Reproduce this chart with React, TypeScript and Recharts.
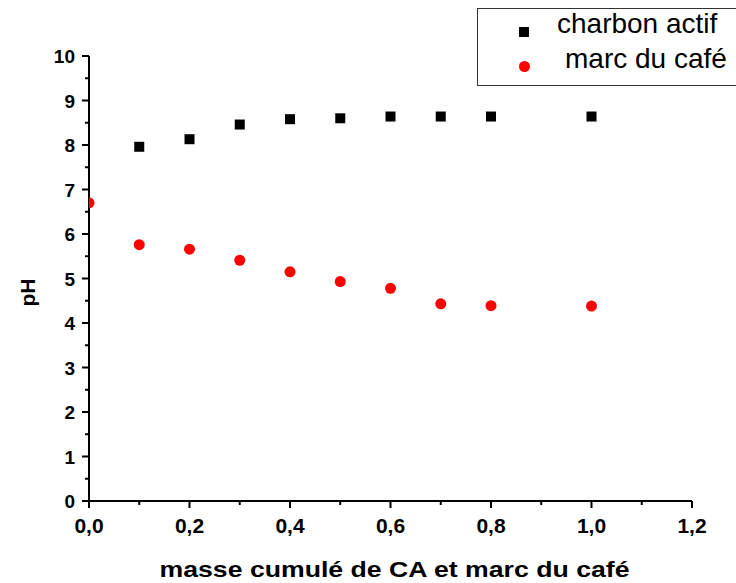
import { ScatterChart, Scatter, XAxis, YAxis } from 'recharts'

// ─── Data ─────────────────────────────────────────────────────────────────
const charbonMasses = [0.1, 0.2, 0.3, 0.4, 0.5, 0.6, 0.7, 0.8, 1.0]
const charbonPH = [7.96, 8.13, 8.46, 8.58, 8.6, 8.64, 8.64, 8.64, 8.64]

const marcMasses = [0, 0.1, 0.2, 0.3, 0.4, 0.5, 0.6, 0.7, 0.8, 1.0]
const marcPH = [6.7, 5.76, 5.66, 5.41, 5.15, 4.93, 4.78, 4.43, 4.39, 4.38]

const xTicks = [0, 0.1, 0.2, 0.3, 0.4, 0.5, 0.6, 0.7, 0.8, 0.9, 1.0, 1.1, 1.2]
const yTicks = [0, 0.5, 1, 1.5, 2, 2.5, 3, 3.5, 4, 4.5, 5, 5.5, 6, 6.5, 7, 7.5, 8, 8.5, 9, 9.5, 10]

const charbonData = charbonMasses.map((m, i) => ({ x: m, y: charbonPH[i] }))
const marcData = marcMasses.map((m, i) => ({ x: m, y: marcPH[i] }))

const FONT = '"Liberation Sans", Arial, sans-serif'

// ─── Ticks (major + minor, outward) ───────────────────────────────────────
function XTick({ x, y, payload }: any) {
  const v = payload.value as number
  const major = Math.abs(v * 5 - Math.round(v * 5)) < 1e-6
  return (
    <g>
      <line x1={x} x2={x} y1={y} y2={y + (major ? 7 : 4)} stroke="#000" strokeWidth={2} />
      {major && (
        <text x={x} y={y + 32} textAnchor="middle" fontFamily={FONT} fontWeight="bold" fontSize={21} fill="#000">
          {v.toFixed(1).replace('.', ',')}
        </text>
      )}
    </g>
  )
}

function YTick({ x, y, payload }: any) {
  const v = payload.value as number
  const major = Number.isInteger(v)
  return (
    <g>
      <line x1={x - (major ? 7 : 4)} x2={x} y1={y} y2={y} stroke="#000" strokeWidth={2} />
      {major && (
        <text x={x - 14} y={y + 7} textAnchor="end" fontFamily={FONT} fontWeight="bold" fontSize={19} fill="#000">
          {v}
        </text>
      )}
    </g>
  )
}

// ─── Legend box (sits outside the svg so it takes no plot space) ─────────
function LegendBox() {
  return (
    <div
      style={{
        position: 'absolute',
        left: 477,
        top: 8,
        width: 290,
        height: 76,
        border: '1px solid #333',
        background: '#fff',
        fontFamily: FONT,
        fontSize: 28,
        color: '#000',
      }}
    >
      <span style={{ position: 'absolute', left: 41, top: 18, width: 10, height: 10, background: '#000' }} />
      <span style={{ position: 'absolute', left: 79, top: -1, lineHeight: '32px' }}>charbon actif</span>
      <span style={{ position: 'absolute', left: 41, top: 52, width: 11, height: 11, borderRadius: '50%', background: '#ff0000' }} />
      <span style={{ position: 'absolute', left: 87, top: 34, lineHeight: '32px' }}>marc du café</span>
    </div>
  )
}

export default function App() {
  return (
    <div style={{ position: 'fixed', left: 0, top: 0, width: 736, height: 583, overflow: 'hidden', background: '#fff' }}>
      <ScatterChart width={736} height={583} margin={{ top: 56, right: 44, bottom: 0, left: 29 }}>
        <XAxis
          type="number"
          dataKey="x"
          domain={[0, 1.2]}
          ticks={xTicks}
          interval={0}
          height={82}
          tickSize={0}
          tickMargin={0}
          tickLine={false}
          axisLine={{ stroke: '#000', strokeWidth: 2 }}
          tick={<XTick />}
          allowDataOverflow
          label={{
            content: ({ viewBox }: any) => (
              <text
                x={viewBox.x + viewBox.width / 2 + 4}
                y={viewBox.y + 76}
                textAnchor="middle"
                fontFamily={FONT}
                fontWeight="bold"
                fontSize={22}
                textLength={470}
                lengthAdjust="spacingAndGlyphs"
                fill="#000"
              >
                masse cumulé de CA et marc du café
              </text>
            ),
          }}
        />
        <YAxis
          type="number"
          dataKey="y"
          domain={[0, 10]}
          ticks={yTicks}
          interval={0}
          width={60}
          tickSize={0}
          tickMargin={0}
          tickLine={false}
          axisLine={{ stroke: '#000', strokeWidth: 2 }}
          tick={<YTick />}
          allowDataOverflow
          label={{
            content: ({ viewBox }: any) => {
              const cx = viewBox.x + 6
              const cy = viewBox.y + viewBox.height / 2 + 14
              return (
                <text
                  x={cx}
                  y={cy}
                  transform={`rotate(-90 ${cx} ${cy})`}
                  textAnchor="middle"
                  fontFamily={FONT}
                  fontWeight="bold"
                  fontSize={21}
                  fill="#000"
                >
                  pH
                </text>
              )
            },
          }}
        />
        <Scatter
          name="charbon actif"
          data={charbonData}
          fill="#000"
          isAnimationActive={false}
          shape={(p: any) => <rect x={p.cx - 5} y={p.cy - 5} width={10} height={10} fill="#000" />}
        />
        <Scatter
          name="marc du café"
          data={marcData}
          fill="#ff0000"
          isAnimationActive={false}
          shape={(p: any) => <circle cx={p.cx} cy={p.cy} r={5.5} fill="#ff0000" />}
        />
      </ScatterChart>
      <LegendBox />
    </div>
  )
}
